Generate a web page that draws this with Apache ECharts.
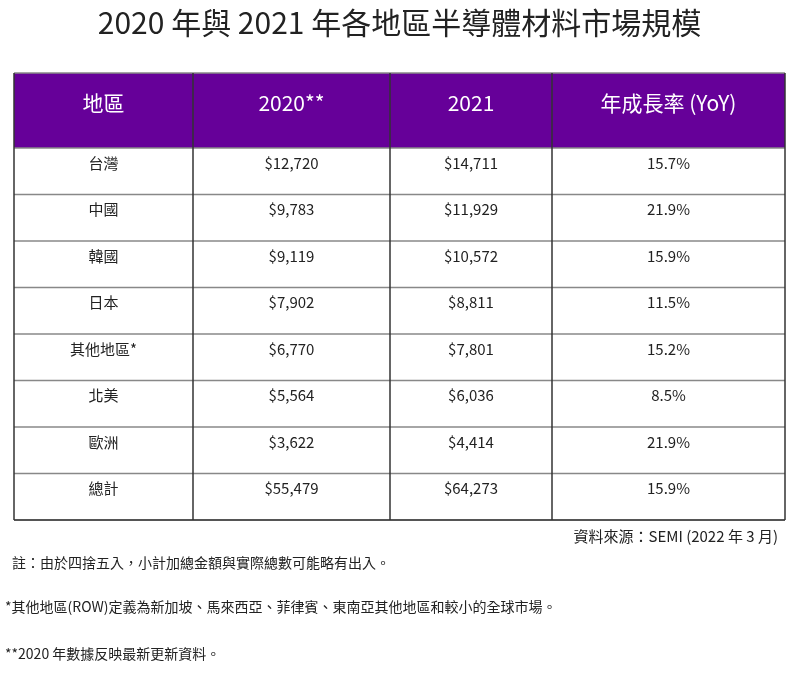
<!DOCTYPE html>
<html>
<head>
<meta charset="utf-8">
<script src="https://cdn.jsdelivr.net/npm/echarts@6/dist/echarts.min.js"></script>
<style>html,body{margin:0;background:#fff}#chart{width:799px;height:673px}</style>
</head>
<body>
<div id="chart"></div>
<script>
const title = '2020 年與 2021 年各地區半導體材料市場規模'
const headers = ['地區', '2020**', '2021', '年成長率 (YoY)']
const regions = ['台灣', '中國', '韓國', '日本', '其他地區*', '北美', '歐洲', '總計']
const values2020 = ['$12,720', '$9,783', '$9,119', '$7,902', '$6,770', '$5,564', '$3,622', '$55,479']
const values2021 = ['$14,711', '$11,929', '$10,572', '$8,811', '$7,801', '$6,036', '$4,414', '$64,273']
const growth = ['15.7%', '21.9%', '15.9%', '11.5%', '15.2%', '8.5%', '21.9%', '15.9%']
const source = '資料來源：SEMI (2022 年 3 月)'
const notes = [
  '註：由於四捨五入，小計加總金額與實際總數可能略有出入。',
  '*其他地區(ROW)定義為新加坡、馬來西亞、菲律賓、東南亞其他地區和較小的全球市場。',
  '**2020 年數據反映最新更新資料。',
]

const FONT = '"Noto Sans CJK TC", "Noto Sans", sans-serif'
const colX = [14, 193, 390, 552, 785]
const tableTop = 73, headH = 75, rowH = 46.5

const chart = echarts.init(document.getElementById('chart'))
const g = []

g.push({ type: 'text', left: 'center', top: 8,
  style: { text: title, font: '30px ' + FONT, fill: '#222' } })

const tableBottom = tableTop + headH + rowH * regions.length
g.push({ type: 'rect', shape: { x: colX[0], y: tableTop, width: colX[4] - colX[0], height: headH },
  style: { fill: '#660099' } })

// grid lines
for (let i = 0; i <= regions.length + 1; i++) {
  const y = i === 0 ? tableTop : tableTop + headH + rowH * (i - 1)
  const last = i === regions.length + 1
  g.push({ type: 'line', shape: { x1: colX[0], y1: y, x2: colX[4], y2: y },
    style: { stroke: last ? '#555' : '#888', lineWidth: last ? 2 : 1.5 } })
}
for (const x of colX) {
  g.push({ type: 'line', shape: { x1: x, y1: tableTop, x2: x, y2: tableBottom },
    style: { stroke: '#333', lineWidth: 1.5 } })
}

const cell = (text, col, y, size, fill) => ({
  type: 'text', x: (colX[col] + colX[col + 1]) / 2, y,
  style: { text, font: size + 'px ' + FONT, fill, align: 'center', verticalAlign: 'middle' },
})

headers.forEach((h, c) => g.push(cell(h, c, tableTop + 30, 21, '#fff')))
regions.forEach((r, i) => {
  const y = tableTop + headH + rowH * i + 15
  g.push(cell(r, 0, y, 15, '#222'))
  g.push(cell(values2020[i], 1, y, 15, '#222'))
  g.push(cell(values2021[i], 2, y, 15, '#222'))
  g.push(cell(growth[i], 3, y, 15, '#222'))
})

g.push({ type: 'text', x: 778, y: tableBottom + 16,
  style: { text: source, font: '15px ' + FONT, fill: '#222', align: 'right', verticalAlign: 'middle' } })
const noteY = [563, 607, 654]
notes.forEach((n, i) => g.push({ type: 'text', x: i === 0 ? 12 : 5, y: noteY[i],
  style: { text: n, font: '14px ' + FONT, fill: '#222', verticalAlign: 'middle' } }))

chart.setOption({ animation: false, graphic: g })
</script>
</body>
</html>
